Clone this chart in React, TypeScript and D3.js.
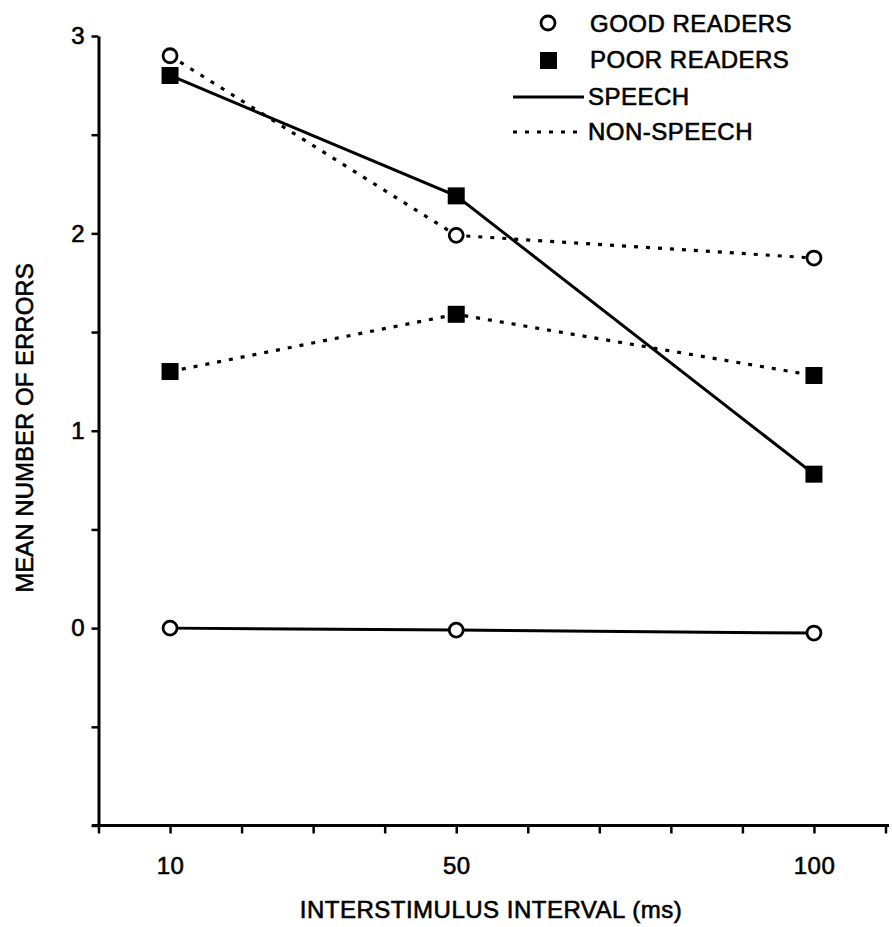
import React, { useEffect, useRef } from "react";
import * as d3 from "d3";

// interstimulus interval (ms)
const intervals = [10, 50, 100];
const labelledTicks = [10, 50, 100];

// mean number of errors
const goodSpeech = [0, -0.01, -0.025];
const goodNonSpeech = [2.9, 1.99, 1.875];
const poorSpeech = [2.8, 2.19, 0.78];
const poorNonSpeech = [1.3, 1.59, 1.28];

const legendItems = ["GOOD READERS", "POOR READERS", "SPEECH", "NON-SPEECH"];

const FONT = "'Liberation Sans', Arial, Helvetica, sans-serif";

// scanned text looks heavier than plain Arial
const thicken = (sel: any) =>
  sel.attr("stroke", "#000").attr("stroke-width", 0.6).attr("paint-order", "stroke");

const App = () => {
  const svgRef = useRef<SVGSVGElement | null>(null);

  useEffect(() => {
    document.body.style.margin = "0";
    const svg = d3.select(svgRef.current);
    svg.selectAll("*").remove();

    const x = d3.scaleLinear().domain([0, 110]).range([98.5, 885.5]);
    const y = d3.scaleLinear().domain([-1, 3]).range([825.5, 36]);

    // x axis
    const gx = svg
      .append("g")
      .attr("transform", `translate(0,${y(-1)})`)
      .call(
        d3
          .axisBottom(x)
          .tickValues(d3.range(0, 111, 10))
          .tickFormat((d: any) => (labelledTicks.includes(d) ? String(d) : ""))
          .tickSize(8)
          .tickSizeOuter(0)
          .tickPadding(23)
      );
    gx.select(".domain").attr("stroke-width", 3).attr("d", `M92,0H889`);
    gx.selectAll(".tick line").attr("stroke-width", 2.5);
    gx.selectAll("text")
      .attr("font-family", FONT)
      .attr("font-size", 24)
      .attr("letter-spacing", 0.5)
      .attr("fill", "#000")
      .call(thicken);

    // y axis
    const gy = svg
      .append("g")
      .attr("transform", `translate(${x(0)},0)`)
      .call(
        d3
          .axisLeft(y)
          .tickValues(d3.range(-1, 3.01, 0.5))
          .tickFormat((d: any) => (Number.isInteger(d) && d >= 0 ? String(d) : ""))
          .tickSize(7)
          .tickSizeOuter(0)
          .tickPadding(7)
      );
    gy.select(".domain").attr("stroke-width", 3);
    gy.selectAll(".tick line").attr("stroke-width", 2.5);
    gy.selectAll("text")
      .attr("font-family", FONT)
      .attr("font-size", 24)
      .attr("fill", "#000")
      .call(thicken);

    // titles
    svg
      .append("text")
      .attr("x", 491)
      .attr("y", 918)
      .attr("text-anchor", "middle")
      .attr("font-family", FONT)
      .attr("font-size", 24)
      .attr("letter-spacing", 0.5)
      .text("INTERSTIMULUS INTERVAL (ms)")
      .call(thicken);

    svg
      .append("text")
      .attr("transform", `translate(33,428) rotate(-90)`)
      .attr("text-anchor", "middle")
      .attr("font-family", FONT)
      .attr("font-size", 24)
      .text("MEAN NUMBER OF ERRORS")
      .call(thicken);

    const line = d3
      .line<number>()
      .x((_, i) => x(intervals[i]))
      .y((d) => y(d));

    const series = [
      { values: goodSpeech, dotted: false, marker: "circle" },
      { values: poorSpeech, dotted: false, marker: "square" },
      { values: goodNonSpeech, dotted: true, marker: "circle" },
      { values: poorNonSpeech, dotted: true, marker: "square" },
    ];

    const plot = svg.append("g");
    series.forEach((s) => {
      plot
        .append("path")
        .attr("d", line(s.values))
        .attr("fill", "none")
        .attr("stroke", "#000")
        .attr("stroke-width", s.dotted ? 3.2 : 3)
        .attr("stroke-dasharray", s.dotted ? "4,8" : null);
    });

    series.forEach((s) => {
      if (s.marker === "circle") {
        plot
          .selectAll(null)
          .data(s.values)
          .join("circle")
          .attr("cx", (_, i) => x(intervals[i]))
          .attr("cy", (d) => y(d))
          .attr("r", 7)
          .attr("fill", "#fff")
          .attr("stroke", "#000")
          .attr("stroke-width", 2.8);
      } else {
        plot
          .selectAll(null)
          .data(s.values)
          .join("rect")
          .attr("x", (_, i) => x(intervals[i]) - 8.5)
          .attr("y", (d) => y(d) - 8.5)
          .attr("width", 17)
          .attr("height", 17)
          .attr("fill", "#000");
      }
    });

    // legend
    const lg = svg.append("g");
    const rows = [32, 68, 105, 140];
    lg.append("circle")
      .attr("cx", 548)
      .attr("cy", 23)
      .attr("r", 7)
      .attr("fill", "#fff")
      .attr("stroke", "#000")
      .attr("stroke-width", 2.8);
    lg.append("rect")
      .attr("x", 540)
      .attr("y", 52)
      .attr("width", 17)
      .attr("height", 17)
      .attr("fill", "#000");
    lg.append("line")
      .attr("x1", 513)
      .attr("x2", 584)
      .attr("y1", 97)
      .attr("y2", 97)
      .attr("stroke", "#000")
      .attr("stroke-width", 3);
    lg.append("line")
      .attr("x1", 513)
      .attr("x2", 580)
      .attr("y1", 132)
      .attr("y2", 132)
      .attr("stroke", "#000")
      .attr("stroke-width", 3.2)
      .attr("stroke-dasharray", "4,8");
    legendItems.forEach((t, i) => {
      lg.append("text")
        .attr("x", i < 2 ? 590 : 588)
        .attr("y", rows[i])
        .attr("font-family", FONT)
        .attr("font-size", 24)
        .attr("letter-spacing", 0.5)
        .text(t)
        .call(thicken);
    });
  }, []);

  return (
    <svg
      ref={svgRef}
      width={892}
      height={927}
      style={{ display: "block", background: "#fff" }}
    ></svg>
  );
};

export default App;
